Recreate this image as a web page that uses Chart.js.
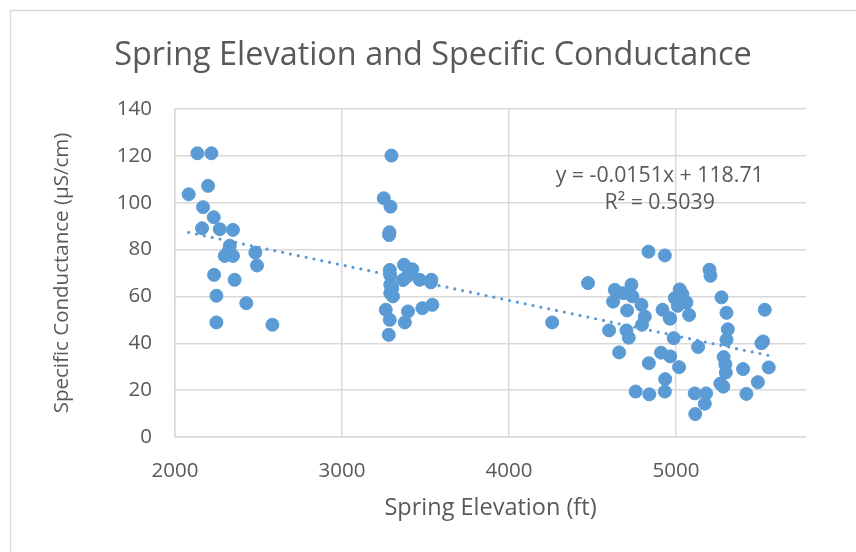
<!DOCTYPE html>
<html>
<head>
<meta charset="utf-8">
<script src="https://cdn.jsdelivr.net/npm/chart.js@4.4.1/dist/chart.umd.min.js"></script>
<style>
  html, body { margin: 0; padding: 0; background: #fff; }
  #wrap { width: 856px; height: 552px; }
</style>
</head>
<body>
<div id="wrap"><canvas id="springChart" width="856" height="552"></canvas></div>
<script>
// Spring elevation (ft) and specific conductance (µS/cm)
const elevationFt = [
  2082, 2134, 2218, 2198, 2168, 2232, 2162, 2268, 2347, 2328, 2322, 2298, 2347, 2481, 2491, 2234, 2357, 2248, 2427, 2248, 2583,
  3296, 3250, 3290, 3284, 3282, 3371, 3421, 3412, 3286, 3289, 3390, 3365, 3465, 3535, 3532, 3289, 3300, 3295, 3289, 3305,
  3262, 3286, 3395, 3376, 3481, 3541, 3280,
  4258,
  4473, 4633, 4733, 4683, 4623, 4739, 4793, 4707, 4813, 4796, 4599, 4703, 4717, 4659, 4835, 4933, 4919, 4965, 4986, 4910,
  4965, 4837, 4935, 4933, 4758, 4840, 5022, 4993, 5038, 5062, 5078, 5018, 5132, 5200, 5206, 5272, 5302, 5310, 5302, 5531,
  5511, 5521, 5555, 5401, 5285, 5295, 5298, 5265, 5283, 5490, 5421, 5112, 5180, 5172, 5115, 4962, 5010
];
const conductance = [
  103.6, 121.1, 121.1, 107.2, 98.1, 93.8, 89.1, 88.7, 88.4, 81.6, 79.5, 77.3, 77.3, 78.7, 73.2, 69.2, 67.1, 60.3, 57.1, 48.9, 47.9,
  120.1, 101.9, 98.3, 87.4, 86.2, 73.5, 71.6, 70.5, 71.3, 69, 68.5, 67, 67.1, 67.1, 66, 65, 63.5, 62.5, 61.4, 60,
  54.3, 50, 53.6, 48.9, 55, 56.4, 43.6,
  48.9,
  65.7, 62.8, 65, 61.4, 57.8, 60, 56.4, 54, 51.4, 47.9, 45.5, 45.5, 42.4, 36.1, 79.1, 77.5, 54.3, 50.5, 42.2, 36,
  34.4, 31.5, 24.7, 19.4, 19.4, 18.2, 63, 59.3, 61, 57.4, 52.1, 29.8, 38.4, 71.4, 68.8, 59.6, 53, 46, 41.5, 54.3,
  40, 40.8, 29.7, 29, 34.1, 31, 27.5, 22.8, 21.5, 23.4, 18.4, 18.6, 18.6, 14.2, 9.8, 50.7, 56
];

// linear trendline ends, as drawn
const trendX = [2082, 5555];
const trendY = [87.3, 34.8];
const trendText = ['y = -0.0151x + 118.71', 'R² = 0.5039'];

const xTicks = [2000, 3000, 4000, 5000];
const yTicks = [0, 20, 40, 60, 80, 100, 120, 140];

const BLUE = '#5B9BD5';
const GRID = '#D9D9D9';
const TEXT = '#595959';
const FONT = "'Open Sans', sans-serif";

Chart.defaults.font.family = FONT;
Chart.defaults.color = TEXT;

// outer chart frame + trendline label
const decor = {
  id: 'decor',
  beforeDraw(chart) {
    const ctx = chart.ctx;
    ctx.save();
    ctx.fillStyle = '#fff';
    ctx.fillRect(0, 0, chart.width, chart.height);
    ctx.strokeStyle = GRID;
    ctx.lineWidth = 1.5;
    ctx.strokeRect(10.5, 10.5, chart.width + 20, chart.height + 20);
    ctx.restore();
  },
  afterDatasetsDraw(chart) {
    const { ctx, scales: { x, y } } = chart;
    ctx.save();
    ctx.font = `21.3px ${FONT}`;
    ctx.fillStyle = TEXT;
    ctx.textAlign = 'center';
    ctx.textBaseline = 'middle';
    ctx.fillText(trendText[0], x.getPixelForValue(4902), y.getPixelForValue(111.4));
    ctx.fillText(trendText[1], x.getPixelForValue(4902), y.getPixelForValue(99.9));
    ctx.restore();
  }
};

new Chart(document.getElementById('springChart'), {
  type: 'scatter',
  data: {
    datasets: [
      {
        label: 'Trend',
        type: 'line',
        data: trendX.map((v, i) => ({ x: v, y: trendY[i] })),
        borderColor: BLUE,
        borderWidth: 3.2,
        borderDash: [0, 8],
        borderCapStyle: 'round',
        pointRadius: 0,
        fill: false,
        order: 0,
      },
      {
        label: 'Specific Conductance',
        data: elevationFt.map((v, i) => ({ x: v, y: conductance[i] })),
        backgroundColor: BLUE,
        borderColor: BLUE,
        borderWidth: 1,
        pointRadius: 6.5,
        order: 1,
      },
    ],
  },
  options: {
    responsive: false,
    devicePixelRatio: 1,
    animation: false,
    // left padding shifts the title centre to match; the y axis eats it back
    layout: { padding: { left: 60, right: 50, top: 0, bottom: 0 } },
    plugins: {
      legend: { display: false },
      tooltip: { enabled: false },
      title: {
        display: true,
        text: 'Spring Elevation and Specific Conductance',
        color: TEXT,
        font: { size: 32.4, weight: 'normal' },
        padding: { top: 36, bottom: 34.1 },
      },
    },
    scales: {
      x: {
        type: 'linear',
        min: 2000,
        max: 5778,
        afterBuildTicks: s => { s.ticks = xTicks.map(v => ({ value: v })); },
        afterFit: s => { s.height = 115; },
        grid: { color: GRID, lineWidth: 1.5, drawTicks: false },
        border: { color: GRID, width: 1.5 },
        ticks: { padding: 22, font: { size: 20.5 }, color: TEXT, callback: v => String(v) },
        title: {
          display: true,
          text: 'Spring Elevation (ft)',
          color: TEXT,
          font: { size: 23.5 },
          padding: { top: 0, bottom: 29.9 },
        },
      },
      y: {
        min: 0,
        max: 140,
        afterBuildTicks: s => { s.ticks = yTicks.map(v => ({ value: v })); },
        afterFit: s => { s.width = 115; },
        grid: { color: GRID, lineWidth: 1.5, drawTicks: false },
        border: { color: GRID, width: 1.5 },
        ticks: { padding: 23, font: { size: 20.5 }, color: TEXT },
        title: {
          display: true,
          text: 'Specific Conductance (µS/cm)',
          color: TEXT,
          font: { size: 20.5 },
          padding: { top: -10.3, bottom: 0 },
        },
      },
    },
  },
  plugins: [decor],
});
</script>
</body>
</html>
